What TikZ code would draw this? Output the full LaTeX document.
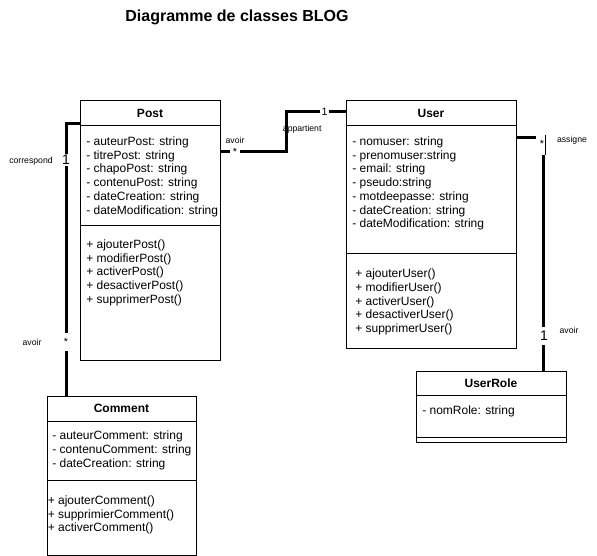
\documentclass[tikz,border=0pt]{standalone}
\usepackage{fontspec}
\setmainfont{Liberation Sans}
\tikzset{
  cls/.style={draw, line width=0.75pt, inner sep=0pt, anchor=north west},
  sepline/.style={line width=0.75pt},
  cname/.style={font=\bfseries\fontsize{9}{10.3}\selectfont, inner sep=0pt},
  members/.style={anchor=north west, inner sep=0pt, align=left, font=\fontsize{9}{10.3}\selectfont},
  assoc/.style={line width=2.25pt},
  rolelbl/.style={font=\fontsize{6.5}{7.5}\selectfont, inner sep=0.5pt},
  bigmult/.style={font=\fontsize{10.5}{12}\selectfont, fill=white, inner sep=1pt},
  smallmult/.style={font=\fontsize{8}{9}\selectfont, fill=white, inner sep=0.8pt},
}
\begin{document}
\begin{tikzpicture}[x=0.75pt,y=-0.75pt]
\useasboundingbox (0,0) rectangle (597,556);

% title
\node[font=\bfseries\fontsize{12}{14}\selectfont, inner sep=0pt] (title) at (237,17) {Diagramme de classes BLOG};

% ---------- Post ----------
\node[cls, minimum width=105pt, minimum height=195pt] (post) at (80,100) {};
\draw[sepline] ([yshift=-19.5pt]post.north west) -- ([yshift=-19.5pt]post.north east);
\draw[sepline] ([yshift=-94.5pt]post.north west) -- ([yshift=-94.5pt]post.north east);
\node[cname] (postname) at (150,113) {Post};
\node[members] (postattr) at (86,135.5) {\strut- auteurPost: string\\- titrePost: string\\- chapoPost: string\\- contenuPost: string\\- dateCreation: string\\- dateModification: string};
\node[members] (postmeth) at (86,238.5) {\strut+ ajouterPost()\\+ modifierPost()\\+ activerPost()\\+ desactiverPost()\\+ supprimerPost()};

% ---------- User ----------
\node[cls, minimum width=127.5pt, minimum height=186pt] (user) at (346,100) {};
\draw[sepline] ([yshift=-19.5pt]user.north west) -- ([yshift=-19.5pt]user.north east);
\draw[sepline] ([yshift=-115.5pt]user.north west) -- ([yshift=-115.5pt]user.north east);
\node[cname] (username) at (431,113) {User};
\node[members] (userattr) at (352,135.5) {\strut- nomuser: string\\- prenomuser:string\\- email: string\\- pseudo:string\\- motdeepasse: string\\- dateCreation: string\\- dateModification: string};
\node[members] (usermeth) at (355,267.8) {\strut+ ajouterUser()\\+ modifierUser()\\+ activerUser()\\+ desactiverUser()\\+ supprimerUser()};

% ---------- Comment ----------
\node[cls, minimum width=111.75pt, minimum height=119.25pt] (comment) at (47,396) {};
\draw[sepline] ([yshift=-18.75pt]comment.north west) -- ([yshift=-18.75pt]comment.north east);
\draw[sepline] ([yshift=-63pt]comment.north west) -- ([yshift=-63pt]comment.north east);
\node[cname] (commentname) at (121.5,408.5) {Comment};
\node[members] (commentattr) at (52,430) {\strut- auteurComment: string\\- contenuComment: string\\- dateCreation: string};
\node[members] (commentmeth) at (47.5,494.5) {\strut+ ajouterComment()\\+ supprimierComment()\\+ activerComment()};

% ---------- UserRole ----------
\node[cls, minimum width=112.5pt, minimum height=53.25pt] (role) at (416,371) {};
\draw[sepline] ([yshift=-18.75pt]role.north west) -- ([yshift=-18.75pt]role.north east);
\draw[sepline] ([yshift=-49.5pt]role.north west) -- ([yshift=-49.5pt]role.north east);
\node[cname] (rolename) at (491,383.5) {UserRole};
\node[members] (roleattr) at (422,405) {\strut- nomRole: string};

% ---------- role labels (under the connectors) ----------
\node[rolelbl] (lavoir1) at (235,140) {avoir};
\node[rolelbl, anchor=west] (lappart) at (282,129) {appartient};
\node[rolelbl] (lcorresp) at (31,161) {correspond};
\node[rolelbl] (lavoir2) at (32,342) {avoir};
\node[rolelbl] (lassigne) at (572,140) {assigne};
\node[rolelbl] (lavoir3) at (569,330) {avoir};

% ---------- connectors ----------
\draw[assoc] ([yshift=-39pt]post.north east) -- ++(65,0) |- ([yshift=-9pt]user.north west);
\draw[assoc] ([yshift=-18pt]post.north west) -| ([xshift=14.25pt]comment.north west);
\draw[assoc] ([yshift=-28.5pt]user.north east) -| ([xshift=95.25pt]role.north west);

% ---------- multiplicities ----------
\node[smallmult, minimum width=7.5pt] (m1) at (235,152) {*};
\node[smallmult] (m2) at (324.5,112) {1};
\node[bigmult] (m3) at (66,160) {1};
\node[smallmult, minimum height=14pt] (m4) at (66,342) {*};
\node[smallmult, minimum width=9pt, minimum height=16.5pt] (m5) at (542,144) {*};
\draw[line width=0.75pt] (m5.north east) ++(-3,2) -- ++(0,20);
\node[bigmult, minimum height=13pt] (m6) at (544,336) {1};
\end{tikzpicture}
\end{document}
